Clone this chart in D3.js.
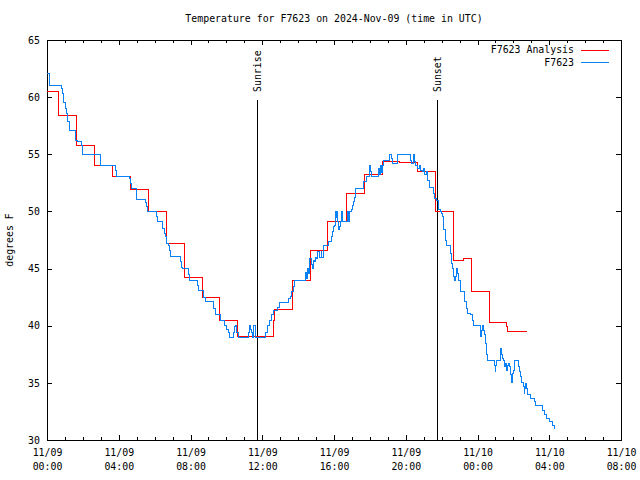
<!DOCTYPE html>
<html><head><meta charset="utf-8">
<script src="https://cdn.jsdelivr.net/npm/d3@7"></script>
<style>
body{margin:0;background:#fff}
svg{display:block}
text{font-family:"DejaVu Sans Mono",monospace;font-size:9.9px;fill:#000}
</style></head><body>
<svg id="chart" width="640" height="480"></svg>
<script>
const title = "Temperature for F7623 on 2024-Nov-09 (time in UTC)";
const yLabel = "degrees F";
const seriesNames = ["F7623 Analysis", "F7623"];
const seriesColors = ["#ff0000", "#0a80f5"];
const startUTC = Date.UTC(2024, 10, 9, 0, 0);
const spanHours = 32;
const yTicks = [30, 35, 40, 45, 50, 55, 60, 65];
const eventNames = ["Sunrise", "Sunset"];
const eventHours = [11.72, 21.76];

// Analysis (hours after 11/09 00:00 UTC, degrees F)
const analysisHours = [0,0.64,1.64,2.65,3.66,4.64,5.64,6.65,7.65,8.66,
  9.62,10.60,12.64,12.67,12.70,13.70,14.69,15.62,16.70,17.70,
  18.72,19.64,20.65,21.64,22.68,23.22,23.66,24.65,25.63,25.67,26.75];
const analysisTemps = [60.5,58.4,55.8,54.05,53.05,51.95,50.0,47.2,44.25,42.5,
  40.45,39.05,40.5,41.0,41.45,43.95,46.55,49.15,51.6,53.2,
  54.35,54.3,53.5,50.0,45.75,45.9,43.0,40.3,39.9,39.5,39.5];

// Observations
const obsHours = [0,0.13,0.82,0.875,0.91,1.005,1.06,1.135,1.23,1.60,
  1.69,1.94,1.99,2.96,3.00,3.83,3.89,4.60,4.67,4.73,
  4.97,5.47,5.53,5.60,6.12,6.18,6.46,6.53,6.61,6.65,
  6.76,6.83,6.91,7.47,7.52,7.58,7.91,7.95,8.40,8.47,
  8.70,8.85,9.30,9.38,9.70,9.90,10.00,10.13,10.18,10.37,
  10.44,10.52,10.59,10.65,11.21,11.28,11.34,11.39,11.45,11.52,
  11.62,11.65,12.17,12.27,12.42,12.49,12.64,12.83,12.94,13.48,
  13.57,13.63,13.76,13.81,14.40,14.45,14.50,14.58,14.65,14.72,
  14.78,14.85,14.92,14.97,15.03,15.10,15.17,15.28,15.33,15.43,
  15.71,15.84,15.90,15.95,16.00,16.08,16.13,16.18,16.22,16.27,
  16.32,16.36,16.41,16.47,16.73,16.78,16.83,16.87,16.97,17.01,
  17.11,17.15,17.20,17.67,17.80,17.98,18.02,18.08,18.50,18.55,
  18.60,18.65,18.69,18.78,19.12,19.18,19.25,19.53,20.27,20.32,
  20.42,20.46,20.55,20.65,20.74,20.84,20.92,21.00,21.07,21.15,
  21.24,21.30,21.54,21.63,21.72,21.80,21.85,21.91,21.98,22.04,
  22.10,22.13,22.19,22.23,22.26,22.47,22.51,22.56,22.60,22.65,
  22.69,22.75,22.82,22.88,22.92,23.03,23.06,23.25,23.29,23.40,
  23.47,23.62,23.72,23.75,24.14,24.18,24.22,24.27,24.33,24.37,
  24.42,24.48,24.52,24.55,24.96,24.98,25.02,25.08,25.26,25.30,
  25.35,25.39,25.45,25.52,25.58,25.63,25.67,25.73,25.80,25.86,
  25.91,25.95,26.01,26.04,26.08,26.27,26.36,26.42,26.45,26.56,
  26.60,26.64,26.69,26.75,26.79,26.97,27.16,27.25,27.63,27.72,
  27.87,28.00,28.18,28.31];
const obsTemps = [62.1,61.05,60.75,60.3,59.5,59.0,58.6,57.85,57.05,56.25,
  56.1,55.75,55.0,54.5,54.05,53.55,53.05,52.9,52.45,52.0,
  51.05,50.75,50.4,50.0,49.55,49.1,48.5,48.05,47.8,47.2,
  47.05,46.6,46.05,45.6,45.1,45.0,44.45,44.0,43.5,43.05,
  42.5,42.1,41.5,41.0,40.5,40.0,39.7,39.4,39.0,39.4,
  39.9,40.0,39.4,39.0,39.4,40.0,39.7,39.4,39.0,40.0,
  39.4,39.0,39.4,40.0,40.5,41.0,41.3,41.6,42.0,42.4,
  42.6,43.0,43.4,43.95,44.7,44.15,45.0,44.6,45.9,45.4,
  45.0,45.7,45.6,46.0,45.9,46.5,46.0,46.5,46.0,47.05,
  47.35,47.8,48.25,48.65,48.8,50.0,49.5,50.0,49.1,48.4,
  48.7,49.1,50.0,49.1,49.5,50.0,49.1,50.0,50.2,50.5,
  50.85,51.2,52.0,52.6,53.05,54.05,53.5,53.05,53.8,53.2,
  54.0,53.4,54.05,54.5,54.95,54.6,54.2,54.95,54.5,54.2,
  54.95,54.35,54.05,53.75,54.05,53.6,53.5,53.75,53.2,53.5,
  52.75,52.1,51.6,51.15,51.0,50.55,50.15,50.0,49.85,49.55,
  48.8,48.4,47.95,47.5,47.05,46.75,46.35,45.45,45.0,44.3,
  44.0,44.3,45.0,44.6,44.0,43.4,43.0,42.7,42.1,41.5,
  41.1,40.95,40.5,40.05,39.8,39.05,39.6,40.05,39.6,39.2,
  38.45,37.9,37.45,37.0,36.55,36.0,36.55,37.0,37.45,38.0,
  37.45,37.15,37.0,36.4,36.7,36.1,36.55,36.7,36.4,35.7,
  35.0,35.8,36.1,36.55,37.0,36.4,36.0,35.55,35.0,34.65,
  34.1,34.5,34.95,34.5,33.95,33.65,33.35,33.05,32.6,32.2,
  31.9,31.6,31.3,31.0];

const W = 640, H = 480;
const M = {left: 47, right: 19, top: 40, bottom: 40};
const toDate = h => new Date(startUTC + h * 3600e3);

const svg = d3.select("#chart");
const x = d3.scaleUtc().domain([toDate(0), toDate(spanHours)]).range([M.left, W - M.right]);
const y = d3.scaleLinear().domain([30, 65]).range([H - M.bottom, M.top]);

const analysis = analysisHours.map((h, i) => ({t: toDate(h), v: analysisTemps[i]}));
const obs = obsHours.map((h, i) => ({t: toDate(h), v: obsTemps[i]}));

// title
svg.append("text").attr("x", (M.left + W - M.right) / 2).attr("y", 19).attr("dy", "0.35em")
  .attr("text-anchor", "middle").text(title);
// y label
svg.append("text").attr("transform", `translate(10,${(M.top + H - M.bottom) / 2}) rotate(-90)`)
  .attr("dy", "0.35em").attr("text-anchor", "middle").text(yLabel);

function styleAxis(g) {
  g.select(".domain").remove();
  g.selectAll("line").attr("stroke", "#000").attr("shape-rendering", "crispEdges");
  g.selectAll("text").attr("font-family", null).attr("font-size", null);
  g.attr("font-family", null).attr("font-size", null);
}

const major = d3.utcHour.every(4);
const minor = d3.utcHour.every(1);

// bottom axis
svg.append("g").attr("transform", `translate(0,${H - M.bottom})`)
  .call(d3.axisBottom(x).ticks(minor).tickSize(-3).tickFormat("")).call(styleAxis);
const bx = svg.append("g").attr("transform", `translate(0,${H - M.bottom})`)
  .call(d3.axisBottom(x).ticks(major).tickSize(-5).tickFormat("")).call(styleAxis);
bx.selectAll(".tick").each(function(d) {
  const g = d3.select(this);
  g.append("text").attr("y", 13).attr("dy", "0.35em").attr("text-anchor", "middle")
    .text(d3.utcFormat("%m/%d")(d));
  g.append("text").attr("y", 27).attr("dy", "0.35em").attr("text-anchor", "middle")
    .text(d3.utcFormat("%H:%M")(d));
});
// top axis
svg.append("g").attr("transform", `translate(0,${M.top})`)
  .call(d3.axisTop(x).ticks(minor).tickSize(-3).tickFormat("")).call(styleAxis);
svg.append("g").attr("transform", `translate(0,${M.top})`)
  .call(d3.axisTop(x).ticks(major).tickSize(-5).tickFormat("")).call(styleAxis);
// left axis
svg.append("g").attr("transform", `translate(${M.left},0)`)
  .call(d3.axisLeft(y).tickValues(yTicks).tickSize(-5).tickPadding(7)).call(styleAxis)
  .selectAll("text").attr("fill", "#000");
// right axis
svg.append("g").attr("transform", `translate(${W - M.right},0)`)
  .call(d3.axisRight(y).tickValues(yTicks).tickSize(-5).tickFormat("")).call(styleAxis);

// border
svg.append("rect").attr("x", M.left).attr("y", M.top)
  .attr("width", W - M.left - M.right).attr("height", H - M.top - M.bottom)
  .attr("fill", "none").attr("stroke", "#000").attr("shape-rendering", "crispEdges");

// events
eventNames.forEach((name, i) => {
  const ex = x(toDate(eventHours[i]));
  svg.append("line").attr("x1", ex).attr("x2", ex).attr("y1", 100).attr("y2", H - M.bottom)
    .attr("stroke", "#000").attr("shape-rendering", "crispEdges");
  svg.append("text").attr("transform", `translate(${ex},92) rotate(-90)`)
    .attr("dy", "0.35em").attr("text-anchor", "start").text(name);
});

// data lines
const line = d3.line().x(d => x(d.t)).y(d => y(d.v)).curve(d3.curveStepAfter);
svg.append("path").datum(analysis).attr("d", line).attr("fill", "none")
  .attr("stroke", seriesColors[0]).attr("stroke-width", 1).attr("shape-rendering", "crispEdges");
svg.append("path").datum(obs).attr("d", line).attr("fill", "none")
  .attr("stroke", seriesColors[1]).attr("stroke-width", 1).attr("shape-rendering", "crispEdges");

// legend
seriesNames.forEach((name, i) => {
  const ly = 50 + i * 12.5;
  svg.append("text").attr("x", 574).attr("y", ly).attr("dy", "0.35em")
    .attr("text-anchor", "end").text(name);
  svg.append("line").attr("x1", 581).attr("x2", 609).attr("y1", ly).attr("y2", ly)
    .attr("stroke", seriesColors[i]).attr("shape-rendering", "crispEdges");
});
</script>
</body></html>
